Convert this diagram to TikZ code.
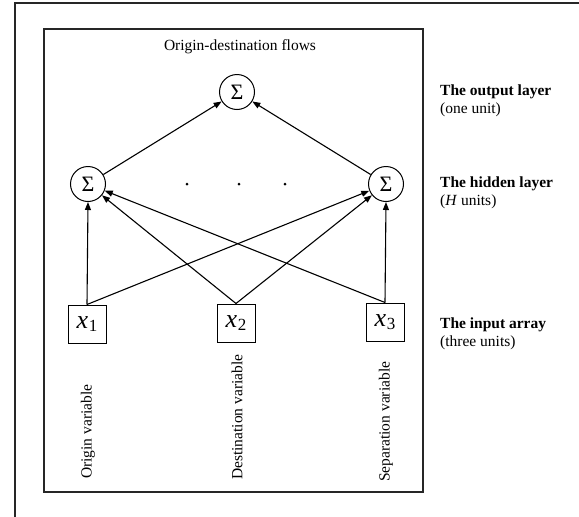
\documentclass[tikz,border=0pt]{standalone}
\usepackage{fontspec}
\setmainfont{Liberation Serif}
\usetikzlibrary{arrows.meta}
\begin{document}
\begin{tikzpicture}[x=1pt,y=-1pt,
 unit/.style={circle,draw,line width=1pt,minimum size=35pt,inner sep=0pt,font=\fontsize{22}{22}\selectfont},
 inbox/.style={draw,line width=1pt,minimum size=38pt,inner sep=0pt,font=\fontsize{26}{26}\selectfont},
 conn/.style={line width=1.1pt,-{Triangle[length=8pt,width=6pt]}},
 frame/.style={line width=1.5pt,draw=black!85},
 lbl/.style={font=\fontsize{15.5}{18}\selectfont,align=left,anchor=west,inner sep=0pt},
 vlbl/.style={font=\fontsize{15.5}{18}\selectfont,rotate=90,anchor=west,inner sep=0pt}]
\useasboundingbox (0,0) rectangle (579,517);
\draw[frame] (15,517) -- (15,3) -- (579,3);
\draw[frame] (44,29) rectangle (423,492);
\node[font=\fontsize{15.5}{18}\selectfont] (title) at (240,47) {Origin-destination flows};
\node[unit] (out) at (237,92) {Σ};
\node[unit] (h1) at (88,184) {Σ};
\node[unit] (h2) at (386,184) {Σ};
\fill (187,184) circle (1.5);
\fill (239,184) circle (1.5);
\fill (285,184) circle (1.5);
\node[inbox] (x1) at (87,324) {\textit{x}\kern0.5pt\raisebox{-0.3ex}{\fontsize{17}{17}\selectfont 1}};
\node[inbox] (x2) at (236,323) {\textit{x}\kern0.5pt\raisebox{-0.3ex}{\fontsize{17}{17}\selectfont 2}};
\node[inbox] (x3) at (385,322) {\textit{x}\kern0.5pt\raisebox{-0.3ex}{\fontsize{17}{17}\selectfont 3}};
\node[vlbl] (v1) at (88,479) {Origin variable};
\node[vlbl] (v2) at (237,480) {Destination variable};
\node[vlbl] (v3) at (386,482) {Separation variable};
\node[lbl] (l1) at (440,101) {\textbf{The output layer}\\(one unit)};
\node[lbl] (l2) at (440,193) {\textbf{The hidden layer}\\(\textit{H} units)};
\node[lbl] (l3) at (440,334) {\textbf{The input array}\\(three units)};
\draw[conn] (h1) -- (out);
\draw[conn] (h2) -- (out);
\draw[conn] (x1.north) -- (h1.south);
\draw[conn] (x1.north) -- (h2);
\draw[conn] (x2.north) -- (h1);
\draw[conn] (x2.north) -- (h2);
\draw[conn] (x3.north) -- (h1);
\draw[conn] (x3.north) -- (h2.south);
\end{tikzpicture}
\end{document}
